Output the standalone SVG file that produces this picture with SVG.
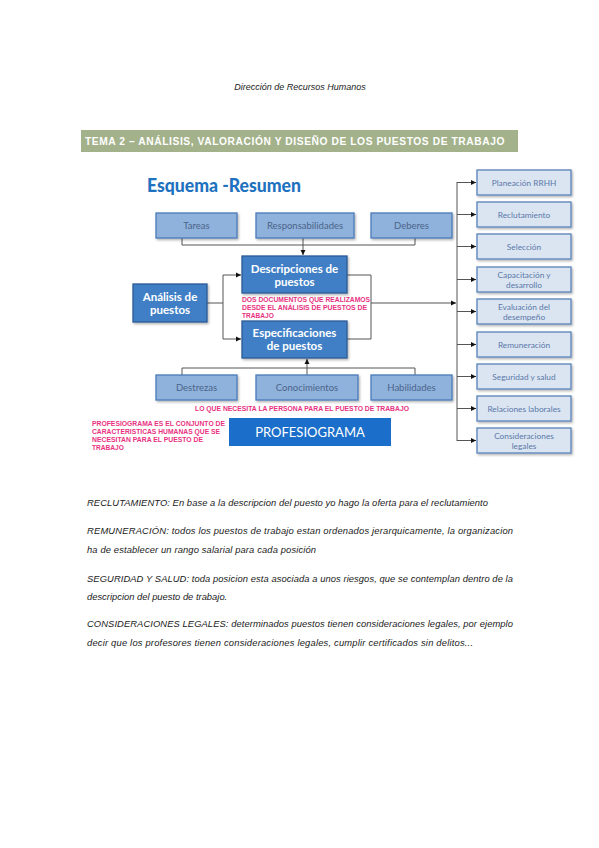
<svg xmlns="http://www.w3.org/2000/svg" width="599" height="848" viewBox="0 0 599 848">
<style>
.hdr{font-family:"Liberation Sans",Arial,sans-serif;font-style:italic;font-size:9px;fill:#222}
.bar{fill:#a3b28b}
.bartxt{font-family:"Liberation Sans",Arial,sans-serif;font-weight:bold;font-size:10.5px;fill:#fff;letter-spacing:0.6px}
.title{font-family:Lato,"Open Sans",sans-serif;font-weight:900;font-size:19.5px;fill:#1f72c0}
.lb{fill:#8fb2dd;stroke:#4a7bb9;stroke-width:1.3}
.lbt{font-family:Lato,"Open Sans",sans-serif;font-size:9.5px;fill:#4b6488;text-anchor:middle}
.db{fill:#3f7fc6;stroke:#2a5a94;stroke-width:1.3}
.dbt{font-family:Lato,"Open Sans",sans-serif;font-weight:bold;font-size:11.5px;fill:#fff;text-anchor:middle}
.rb{fill:#dbe5f2;stroke:#5a83b9;stroke-width:1.3}
.rbt{font-family:Lato,"Open Sans",sans-serif;font-size:8.3px;fill:#5a78a8;text-anchor:middle}
.pink{font-family:"Liberation Sans",Arial,sans-serif;font-weight:bold;font-size:6.6px;fill:#e8327f}
.prof{fill:#1b6fca}
.proft{font-family:Lato,"Open Sans",sans-serif;font-size:13px;fill:#fff;text-anchor:middle}
.body{font-family:"Liberation Sans",Arial,sans-serif;font-style:italic;font-size:9.4px;fill:#1a1a1a}
.cn{fill:none;stroke:#555;stroke-width:1}
</style>
<defs>
<marker id="ar" markerWidth="6" markerHeight="6" refX="5" refY="3" orient="auto" markerUnits="userSpaceOnUse">
<path d="M0,0.5 L5,3 L0,5.5 Z" fill="#111"/>
</marker>
<filter id="sh" x="-10%" y="-10%" width="130%" height="140%">
<feDropShadow dx="1.2" dy="1.5" stdDeviation="0.8" flood-color="#000" flood-opacity="0.3"/>
</filter>
</defs>

<rect width="599" height="848" fill="#fff"/>

<text class="hdr" x="300" y="90" text-anchor="middle">Dirección de Recursos Humanos</text>

<g id="banner">
<rect class="bar" x="81" y="130" width="437" height="22"/>
<text class="bartxt" x="85" y="145" textLength="420" lengthAdjust="spacingAndGlyphs">TEMA 2 – ANÁLISIS, VALORACIÓN Y DISEÑO DE LOS PUESTOS DE TRABAJO</text>
</g>

<text class="title" x="147" y="192" textLength="154" lengthAdjust="spacingAndGlyphs">Esquema -Resumen</text>

<g id="connectors">
<path class="cn" d="M182,238 V245 H415 V238"/>
<path class="cn" d="M303,238 V255" marker-end="url(#ar)"/>
<path class="cn" d="M207,303 H223"/>
<path class="cn" d="M223,275 V339"/>
<path class="cn" d="M223,275 H241" marker-end="url(#ar)"/>
<path class="cn" d="M223,339 H241" marker-end="url(#ar)"/>
<path class="cn" d="M347,275 H371 V339 H347"/>
<path class="cn" d="M371,303 H456" marker-end="url(#ar)"/>
<path class="cn" d="M457,182 V441"/>
<path class="cn" d="M457,182.5 H476" marker-end="url(#ar)"/>
<path class="cn" d="M457,214.5 H476" marker-end="url(#ar)"/>
<path class="cn" d="M457,246.5 H476" marker-end="url(#ar)"/>
<path class="cn" d="M457,279.5 H476" marker-end="url(#ar)"/>
<path class="cn" d="M457,311.5 H476" marker-end="url(#ar)"/>
<path class="cn" d="M457,344.5 H476" marker-end="url(#ar)"/>
<path class="cn" d="M457,376.5 H476" marker-end="url(#ar)"/>
<path class="cn" d="M457,408.5 H476" marker-end="url(#ar)"/>
<path class="cn" d="M457,440.5 H476" marker-end="url(#ar)"/>
<path class="cn" d="M182,375 V368 H415 V375"/>
<path class="cn" d="M307,375 V359" marker-end="url(#ar)"/>
</g>

<g id="tareas"><rect class="lb" x="156" y="213" width="81" height="25" filter="url(#sh)"/><text class="lbt" x="196.5" y="229">Tareas</text></g>
<g id="responsabilidades"><rect class="lb" x="256" y="213" width="98" height="25" filter="url(#sh)"/><text class="lbt" x="305" y="229">Responsabilidades</text></g>
<g id="deberes"><rect class="lb" x="371" y="213" width="81" height="25" filter="url(#sh)"/><text class="lbt" x="411.5" y="229">Deberes</text></g>

<g id="descripciones"><rect class="db" x="242" y="256" width="105" height="37" filter="url(#sh)"/><text class="dbt" x="294.5" y="272.5">Descripciones de</text><text class="dbt" x="294.5" y="285.5">puestos</text></g>
<g id="especificaciones"><rect class="db" x="242" y="321" width="105" height="37" filter="url(#sh)"/><text class="dbt" x="294.5" y="337">Especificaciones</text><text class="dbt" x="294.5" y="350">de puestos</text></g>
<g id="analisis"><rect class="db" x="133" y="284" width="74" height="38" filter="url(#sh)"/><text class="dbt" x="170" y="300.5">Análisis de</text><text class="dbt" x="170" y="313.5">puestos</text></g>

<g id="nota-documentos">
<text class="pink" x="242" y="302" textLength="128" lengthAdjust="spacingAndGlyphs">DOS DOCUMENTOS QUE REALIZAMOS</text>
<text class="pink" x="242" y="310" textLength="125" lengthAdjust="spacingAndGlyphs">DESDE EL ANÁLISIS DE PUESTOS DE</text>
<text class="pink" x="242" y="318">TRABAJO</text>
</g>

<g id="destrezas"><rect class="lb" x="156" y="375" width="81" height="25" filter="url(#sh)"/><text class="lbt" x="196.5" y="391">Destrezas</text></g>
<g id="conocimientos"><rect class="lb" x="256" y="375" width="102" height="25" filter="url(#sh)"/><text class="lbt" x="307" y="391">Conocimientos</text></g>
<g id="habilidades"><rect class="lb" x="371" y="375" width="81" height="25" filter="url(#sh)"/><text class="lbt" x="411.5" y="391">Habilidades</text></g>

<text class="pink" x="195" y="410.5" textLength="214" lengthAdjust="spacingAndGlyphs">LO QUE NECESITA LA PERSONA PARA EL PUESTO DE TRABAJO</text>

<g id="profesiograma"><rect class="prof" x="229" y="418" width="162" height="28"/><text class="proft" x="310" y="437">PROFESIOGRAMA</text></g>

<g id="nota-profesiograma">
<text class="pink" x="92" y="425.5" textLength="133" lengthAdjust="spacingAndGlyphs">PROFESIOGRAMA ES EL CONJUNTO DE</text>
<text class="pink" x="92" y="433.5" textLength="128" lengthAdjust="spacingAndGlyphs">CARACTERISTICAS HUMANAS QUE SE</text>
<text class="pink" x="92" y="441.5" textLength="111" lengthAdjust="spacingAndGlyphs">NECESITAN PARA EL PUESTO DE</text>
<text class="pink" x="92" y="449.5">TRABAJO</text>
</g>

<g id="planeacion"><rect class="rb" x="477" y="170" width="94" height="25" filter="url(#sh)"/><text class="rbt" x="524" y="185.5">Planeación RRHH</text></g>
<g id="reclutamiento"><rect class="rb" x="477" y="202" width="94" height="25" filter="url(#sh)"/><text class="rbt" x="524" y="217.5">Reclutamiento</text></g>
<g id="seleccion"><rect class="rb" x="477" y="234" width="94" height="25" filter="url(#sh)"/><text class="rbt" x="524" y="249.5">Selección</text></g>
<g id="capacitacion"><rect class="rb" x="477" y="267" width="94" height="25" filter="url(#sh)"/><text class="rbt" x="524" y="277.5">Capacitación y</text><text class="rbt" x="524" y="287.5">desarrollo</text></g>
<g id="evaluacion"><rect class="rb" x="477" y="299" width="94" height="25" filter="url(#sh)"/><text class="rbt" x="524" y="309.5">Evaluación del</text><text class="rbt" x="524" y="319.5">desempeño</text></g>
<g id="remuneracion"><rect class="rb" x="477" y="332" width="94" height="25" filter="url(#sh)"/><text class="rbt" x="524" y="347.5">Remuneración</text></g>
<g id="seguridad"><rect class="rb" x="477" y="364" width="94" height="25" filter="url(#sh)"/><text class="rbt" x="524" y="379.5">Seguridad y salud</text></g>
<g id="relaciones"><rect class="rb" x="477" y="396" width="94" height="25" filter="url(#sh)"/><text class="rbt" x="524" y="411.5">Relaciones laborales</text></g>
<g id="consideraciones"><rect class="rb" x="477" y="428" width="94" height="25" filter="url(#sh)"/><text class="rbt" x="524" y="438.5">Consideraciones</text><text class="rbt" x="524" y="448.5">legales</text></g>

<g id="notas">
<text class="body" x="87" y="505.5" textLength="401" lengthAdjust="spacing">RECLUTAMIENTO: En base a la descripcion del puesto yo hago la oferta para el reclutamiento</text>
<text class="body" x="87" y="533.5" textLength="426" lengthAdjust="spacing">REMUNERACIÓN:  todos los puestos de trabajo estan ordenados jerarquicamente, la organizacion</text>
<text class="body" x="87" y="552.5" textLength="229" lengthAdjust="spacing">ha de establecer un rango salarial para cada posición</text>
<text class="body" x="87" y="581.5" textLength="426" lengthAdjust="spacing">SEGURIDAD Y SALUD: toda posicion esta asociada a unos riesgos, que se contemplan dentro de la</text>
<text class="body" x="87" y="600">descripcion del puesto de trabajo.</text>
<text class="body" x="87" y="627" textLength="426" lengthAdjust="spacing">CONSIDERACIONES LEGALES: determinados puestos tienen consideraciones legales, por ejemplo</text>
<text class="body" x="87" y="646" textLength="386" lengthAdjust="spacing">decir que los profesores tienen consideraciones legales, cumplir certificados sin delitos...</text>
</g>
</svg>
